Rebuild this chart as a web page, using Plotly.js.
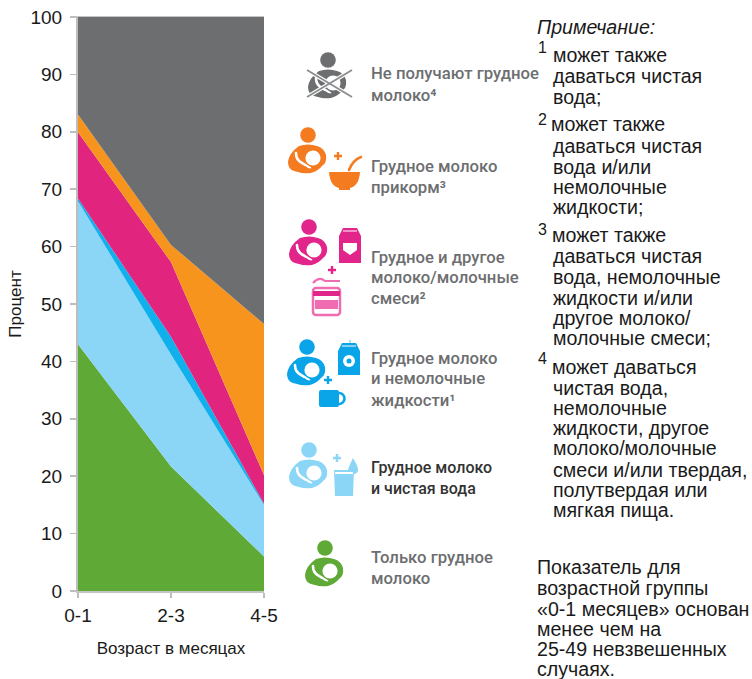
<!DOCTYPE html>
<html><head><meta charset="utf-8">
<script src="https://cdn.plot.ly/plotly-3.0.1.min.js"></script>
<style>html,body{margin:0;padding:0;background:#fff}#c{width:752px;height:679px}</style>
</head><body><div id="c"></div>
<script>
// ---------- data ----------
const ageGroups = ['0-1','2-3','4-5'];
const seriesNames = ['Только грудное молоко','Грудное молоко и чистая вода','Грудное молоко и немолочные жидкости','Грудное и другое молоко/молочные смеси','Грудное молоко прикорм','Не получают грудное молоко'];
const exclusive = [43, 21.7, 6];
const plainWater = [24.9, 19.5, 9];
const nonMilk = [0.5, 3.1, 0.2];
const otherMilk = [11.5, 13, 5];
const complementary = [3.1, 3, 26.3];
const notBreastfed = [17, 39.7, 53.5];
const yTicks = [0,10,20,30,40,50,60,70,80,90,100];

const legendLabels = [
  ['Не получают грудное','молоко⁴'],
  ['Грудное молоко','прикорм³'],
  ['Грудное и другое','молоко/молочные','смеси²'],
  ['Грудное молоко','и немолочные','жидкости¹'],
  ['Грудное молоко','и чистая вода'],
  ['Только грудное','молоко']
];
const noteHeading = 'Примечание:';
const noteLines = ['может также','даваться чистая','вода;','может также','даваться чистая','вода и/или','немолочные','жидкости;','может также','даваться чистая','вода, немолочные','жидкости и/или','другое молоко/','молочные смеси;','может даваться','чистая вода,','немолочные','жидкости, другое','молоко/молочные','смеси и/или твердая,','полутвердая или','мягкая пища.'];
const noteMarks = ['1','2','3','4'];
const footLines = ['Показатель для','возрастной группы','«0-1 месяцев» основан','менее чем на','25-49 невзвешенных','случаях.'];

// ---------- layout helpers ----------
const W=752,H=679,L=78,R=264,T=17,B=591;
const fx=x=>(x-L)/(R-L), fy=y=>(B-y)/(B-T);
const colors={green:'#5fa936',light:'#8bd6f7',blue:'#0fb0ec',pink:'#e1257f',orange:'#f7941e',gray:'#6d6e70'};
const stackColors=[colors.green,colors.light,colors.blue,colors.pink,colors.orange,colors.gray];
const seriesValues=[exclusive,plainWater,nonMilk,otherMilk,complementary,notBreastfed];

const data=seriesValues.map((v,i)=>({
  type:'scatter',mode:'none',name:seriesNames[i],x:ageGroups,y:v,stackgroup:'one',
  fill:'tonexty',fillcolor:stackColors[i],line:{width:0},hoverinfo:'skip'
}));

// ---------- text ----------
const anns=[];
function txt(text,x,y,font,extra){
  anns.push(Object.assign({text,xref:'paper',yref:'paper',x:fx(x),y:fy(y),xanchor:'left',yanchor:'middle',showarrow:false,borderpad:0,borderwidth:0,align:'left',font},extra||{}));
}
const legendFont={family:'Roboto, Arimo, sans-serif',size:16.7,color:'#6d6e70',weight:500};
const legendDark={family:'Roboto, sans-serif',size:16,color:'#333333',weight:500};
const legendY=[[74,95],[166,187],[257,277,298],[358,379,400],[467,488],[557,578]];
legendLabels.forEach((ls,i)=>ls.forEach((t,j)=>txt(t,371,legendY[i][j],i===4?legendDark:legendFont)));

const noteFont={family:'Liberation Sans, sans-serif',size:19.6,color:'#1a1a1a'};
txt(noteHeading,537,27,Object.assign({},noteFont,{style:'italic'}));
const noteY=[55,76,97,124,146,167,187,207,235,256,277,298,318,338,367,388,408,428,448,470,490,510];
const noteX=[553,553,553,551,553,553,553,553,552,553,553,553,553,553,552,553,553,553,553,553,553,553];
noteLines.forEach((t,i)=>txt(t,noteX[i],noteY[i],noteFont));
const markY=[47,120,230,358];
noteMarks.forEach((t,i)=>txt(t,538,markY[i],Object.assign({},noteFont,{size:16})));
const footY=[567,588,609,629,649,669];
footLines.forEach((t,i)=>txt(t,537,footY[i],noteFont));

// ---------- pictograms ----------
function mother(x,y,c){return `<g transform="translate(${x} ${y})" fill="${c}"><circle r="7.8"/><path d="M-9,11Q0,8 9,11Q16,13 18,20Q19,28 14,31Q10,36 3,38Q-5,39 -10,37L-14,36Q-20,34 -20,27Q-19,18 -9,11Z"/><circle cx="5" cy="23" r="7.6" fill="#fff"/><path d="M-12,18Q-12,25 -6,28L2,33" fill="none" stroke="#fff" stroke-width="2.6" stroke-linecap="round"/><path d="M-3,31Q3,36 9,31L11,33Q4,39 -3,36Z"/></g>`;}
function plus(x,y,c,s=4){return `<path d="M${x-s},${y}H${x+s}M${x},${y-s}V${y+s}" stroke="${c}" stroke-width="2.4" fill="none"/>`;}
function carton(x,y,w,h,c){return `<path d="M${x},${y+8}L${x+4},${y}H${x+w-4}L${x+w},${y+8}V${y+h}H${x}Z" fill="${c}"/><path d="M${x+4},${y+3}H${x+w-4}" stroke="#fff" stroke-width="1"/>`;}
const icons=[
 {box:[300,48,60,56],draw:()=>{const c=colors.gray;return mother(328,60,c)+`<path d="M307,70L352,97M307,97L352,70" stroke="#fff" stroke-width="4"/><path d="M307,70L352,97M307,97L352,70" stroke="#8c8d8f" stroke-width="1.8"/>`;}},
 {box:[285,124,80,72],draw:()=>{const c='#f47b20';return mother(308,135,c)+plus(338,156,c)+`<path d="M329,172H360Q359,186 350,188V190H339V188Q330,186 329,172Z" fill="${c}"/><path d="M349,170Q353,160 361,157" stroke="${c}" stroke-width="2.6" fill="none" stroke-linecap="round"/>`;}},
 {box:[285,216,80,104],draw:()=>{const c='#e1258a',d='#f06cb0';return mother(309,227,c)+carton(339,228,22,35,c)+`<path d="M343,243h14v7l-7,5l-7,-5z" fill="#fff"/>`+plus(332,270,c)+`<path d="M313,283Q319,276 325,281H340" stroke="${d}" stroke-width="2.2" fill="none"/><rect x="313" y="288" width="27" height="27" rx="3" fill="none" stroke="${d}" stroke-width="2.5"/><rect x="313" y="291" width="27" height="5" fill="${c}"/><rect x="315" y="300" width="23" height="9" fill="${d}"/>`;}},
 {box:[285,336,80,76],draw:()=>{const c='#0aa5e8';return mother(307,347,c)+`<path d="M350,346v-6" stroke="#8bd6f7" stroke-width="1.5"/>`+carton(338,343,22,32,c)+`<circle cx="349" cy="361" r="6" fill="#fff"/><circle cx="349" cy="361" r="2.5" fill="${c}"/>`+plus(328,380,c)+`<rect x="319" y="390" width="20" height="17" rx="2" fill="${c}"/><path d="M339,393a5,5 0 0 1 0,11" stroke="${c}" stroke-width="2.6" fill="none"/>`;}},
 {box:[285,439,80,60],draw:()=>{const c=colors.light;return mother(309,450,c)+plus(337,458,c)+`<path d="M353,458Q359,468 358,471A5.5,5.5 0 0 1 348,471Q348,468 353,458Z" fill="${c}"/><path d="M334,470H354L353,496H335Z" fill="${c}"/><path d="M335,472H353V474H335Z" fill="#fff"/>`;}},
 {box:[300,537,50,56],draw:()=>mother(325,548,colors.green)}
];
const images=icons.map(ic=>{
  const [x,y,w,h]=ic.box;
  const svg=`<svg xmlns="http://www.w3.org/2000/svg" width="${w}" height="${h}" viewBox="${x} ${y} ${w} ${h}">${ic.draw()}</svg>`;
  return {source:'data:image/svg+xml;charset=utf-8,'+encodeURIComponent(svg),xref:'paper',yref:'paper',x:fx(x),y:fy(y),sizex:w/(R-L),sizey:h/(B-T),sizing:'stretch',xanchor:'left',yanchor:'top',layer:'above'};
});

const axisFont={family:'Liberation Sans, sans-serif',size:19,color:'#1a1a1a'};
const titleFont={family:'Liberation Sans, sans-serif',size:17,color:'#1a1a1a'};
const layout={
  width:W,height:H,margin:{l:L,r:W-R,t:T,b:H-B,pad:0},paper_bgcolor:'#fff',plot_bgcolor:'#fff',showlegend:false,
  font:axisFont,
  xaxis:{type:'category',range:[0,2],showgrid:false,zeroline:false,showline:true,mirror:true,linecolor:'#c4c4c4',linewidth:1.5,ticks:'outside',ticklen:5,tickwidth:1.5,tickcolor:'#bdbdbd',tickfont:axisFont,ticklabelstandoff:2,
    title:{text:'Возраст в месяцах',standoff:17,font:titleFont}},
  yaxis:{range:[0,100],tickvals:yTicks,showgrid:false,zeroline:false,showline:true,linecolor:'#bdbdbd',linewidth:2,ticks:'outside',ticklen:6,tickwidth:1.5,tickcolor:'#bdbdbd',tickfont:axisFont,ticklabelstandoff:4,
    title:{text:'Процент',standoff:5,font:titleFont}},
  annotations:anns,images:images
};
Plotly.newPlot('c',data,layout,{displayModeBar:false,staticPlot:true});
</script></body></html>
